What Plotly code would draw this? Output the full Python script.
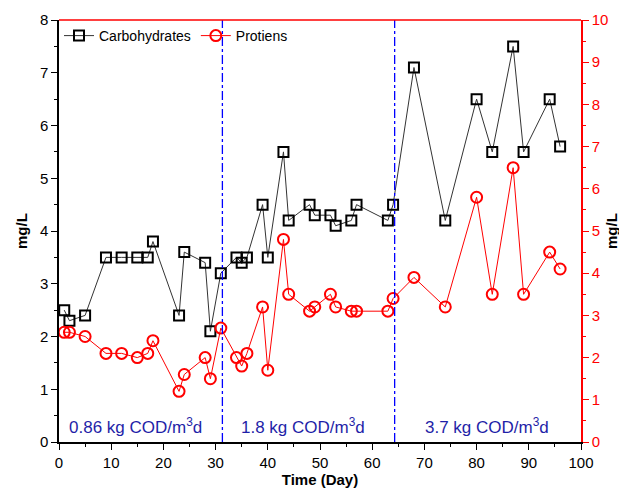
import plotly.graph_objects as go

# Carbohydrates (left axis, mg/L)
carb_day = [1, 2, 5, 9, 12, 15, 17, 18, 23, 24, 28, 29, 31, 34, 35, 36, 39, 40, 43, 44,
            48, 49, 52, 53, 56, 57, 63, 64, 68, 74, 80, 83, 87, 89, 94, 96]
carb_val = [2.5, 2.3, 2.4, 3.5, 3.5, 3.5, 3.5, 3.8, 2.4, 3.6, 3.4, 2.1, 3.2, 3.5, 3.4, 3.5, 4.5, 3.5, 5.5, 4.2,
            4.5, 4.3, 4.3, 4.1, 4.2, 4.5, 4.2, 4.5, 7.1, 4.2, 6.5, 5.5, 7.5, 5.5, 6.5, 5.6]

# Proteins (right axis, mg/L)
prot_day = [1, 2, 5, 9, 12, 15, 17, 18, 23, 24, 28, 29, 31, 34, 35, 36, 39, 40, 43, 44,
            48, 49, 52, 53, 56, 57, 63, 64, 68, 74, 80, 83, 87, 89, 94, 96]
prot_val = [2.6, 2.6, 2.5, 2.1, 2.1, 2.0, 2.1, 2.4, 1.2, 1.6, 2.0, 1.5, 2.7, 2.0, 1.8, 2.1, 3.2, 1.7, 4.8, 3.5,
            3.1, 3.2, 3.5, 3.2, 3.1, 3.1, 3.1, 3.4, 3.9, 3.2, 5.8, 3.5, 6.5, 3.5, 4.5, 4.1]

phase_breaks = [31.3, 64.3]
phase_labels = ["0.86 kg COD/m<sup>3</sup>d", "1.8 kg COD/m<sup>3</sup>d", "3.7 kg COD/m<sup>3</sup>d"]
phase_label_x = [14.6, 46.8, 82]

FONT = "Liberation Sans, Arial, sans-serif"
BLUE = "#0000FF"
LABEL_BLUE = "#1F1FA8"

fig = go.Figure()
fig.add_trace(go.Scatter(
    x=carb_day, y=carb_val, name="Carbohydrates", mode="lines+markers",
    line=dict(color="#333333", width=1),
    marker=dict(symbol="square-open", size=10, color="black", line=dict(width=2, color="black")),
    yaxis="y"))
fig.add_trace(go.Scatter(
    x=prot_day, y=prot_val, name="Protiens", mode="lines+markers",
    line=dict(color="#FF0000", width=1),
    marker=dict(symbol="circle-open", size=11, color="#FF0000", line=dict(width=2, color="#FF0000")),
    yaxis="y2"))

for xb in phase_breaks:
    fig.add_shape(type="line", xref="x", yref="paper", x0=xb, x1=xb, y0=0, y1=1,
                  line=dict(color=BLUE, width=1.3, dash="dashdot"))

# top border in red
fig.add_shape(type="line", xref="paper", yref="paper", x0=0, x1=1, y0=1, y1=1,
              line=dict(color="#FF0000", width=1.5))

for lx, lt in zip(phase_label_x, phase_labels):
    fig.add_annotation(x=lx, y=0.0, xref="x", yref="paper", text=lt, showarrow=False,
                       yanchor="bottom", yshift=3, font=dict(family=FONT, size=17, color=LABEL_BLUE))

# axis titles as rotated annotations for precise placement
fig.add_annotation(x=0, y=0.5, xref="paper", yref="paper", text="<b>mg/L</b>", textangle=-90,
                   showarrow=False, xanchor="center", yanchor="middle", xshift=-38,
                   font=dict(family=FONT, size=15, color="black"))
fig.add_annotation(x=1, y=0.5, xref="paper", yref="paper", text="<b>mg/L</b>", textangle=-90,
                   showarrow=False, xanchor="center", yanchor="middle", xshift=30,
                   font=dict(family=FONT, size=15, color="black"))

fig.update_layout(
    width=619, height=480,
    margin=dict(l=51, r=46, t=12, b=46, autoexpand=False),
    plot_bgcolor="white", paper_bgcolor="white",
    font=dict(family=FONT, size=15, color="black"),
    showlegend=True,
    legend=dict(orientation="h", x=0.0, y=1.0, xanchor="left", yanchor="top",
                bgcolor="rgba(0,0,0,0)", font=dict(size=14), itemwidth=30, tracegroupgap=0),
    xaxis=dict(range=[0, 100], dtick=10, tick0=0, showgrid=False, zeroline=False,
               showline=True, linecolor="black", linewidth=1.5,
               ticks="outside", ticklen=6, tickcolor="black",
               minor=dict(dtick=5, ticks="outside", ticklen=3, tickcolor="black"),
               title=dict(text="<b>Time (Day)</b>", font=dict(size=15), standoff=4)),
    yaxis=dict(range=[0, 8], dtick=1, showgrid=False, zeroline=False,
               showline=True, linecolor="black", linewidth=1.5,
               ticks="outside", ticklen=6, tickcolor="black",
               minor=dict(dtick=0.5, ticks="outside", ticklen=3, tickcolor="black")),
    yaxis2=dict(range=[0, 10], dtick=1, overlaying="y", side="right", showgrid=False, zeroline=False,
                showline=True, linecolor="#FF0000", linewidth=1.5,
                ticks="outside", ticklen=6, tickcolor="#FF0000",
                tickfont=dict(color="#FF0000"),
                minor=dict(dtick=0.5, ticks="outside", ticklen=3, tickcolor="#FF0000")),
)

fig.write_html("out.html")
